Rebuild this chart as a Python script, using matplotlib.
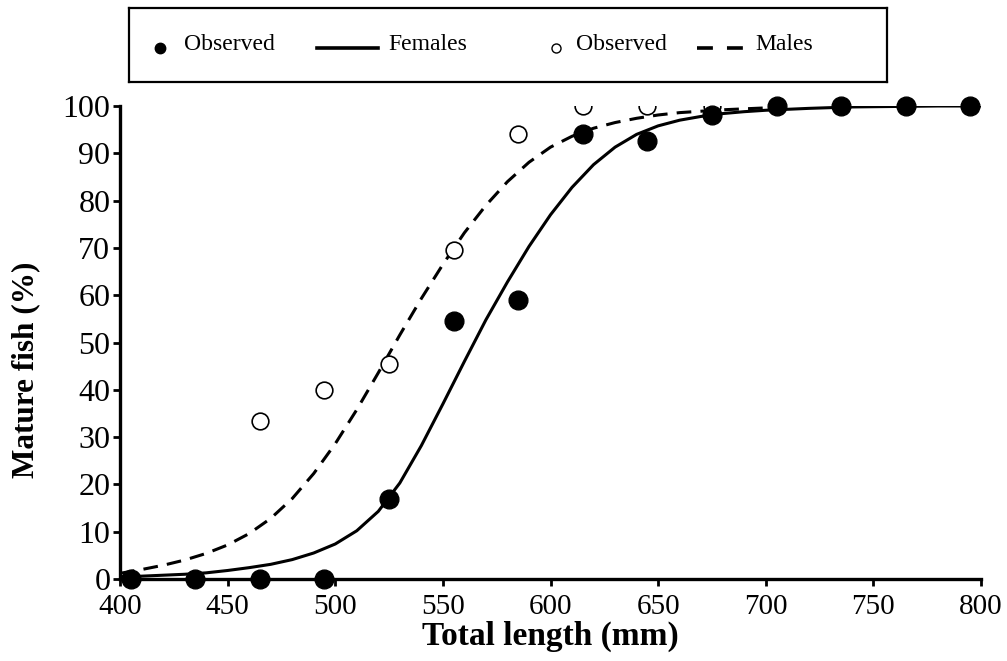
import matplotlib
matplotlib.use("Agg")
import matplotlib.pyplot as plt
from matplotlib.lines import Line2D

# ---- data ----
length_classes = [405, 435, 465, 495, 525, 555, 585, 615, 645, 675, 705, 735, 765, 795]
females_observed = [0, 0, 0, 0, 17, 54.5, 59, 94, 92.5, 98, 100, 100, 100, 100]

males_length = [465, 495, 525, 555, 585, 615, 645, 675]
males_observed = [33.5, 40, 45.5, 69.5, 94, 100, 100, 100]

# fitted curves
female_curve_x = [400, 410, 420, 430, 440, 450, 460, 470, 480, 490, 500, 510, 520, 530, 540,
                  550, 560, 570, 580, 590, 600, 610, 620, 630, 640, 650, 660, 670, 680, 690,
                  700, 720, 740, 760, 780, 800]
female_curve_y = [0.5, 0.6, 0.8, 1.0, 1.3, 1.8, 2.4, 3.1, 4.1, 5.5, 7.4, 10.2, 14.3, 20.3, 28.2,
                  37.0, 46.0, 54.8, 62.8, 70.3, 77.0, 82.8, 87.6, 91.3, 94.0, 95.8, 97.0, 97.8, 98.4, 98.8,
                  99.1, 99.5, 99.8, 99.9, 100.0, 100.0]

male_curve_x = [400, 410, 420, 430, 440, 450, 460, 470, 480, 490, 500, 510, 520, 530, 540,
                550, 560, 570, 580, 590, 600, 610, 620, 630, 640, 650, 660, 670, 680, 690, 700]
male_curve_y = [1.2, 2.0, 2.9, 4.0, 5.4, 7.2, 9.6, 12.8, 17.0, 22.3, 28.6, 35.8, 43.6, 51.6, 59.3,
                66.5, 73.2, 79.0, 84.0, 88.1, 91.3, 93.6, 95.3, 96.5, 97.4, 98.1, 98.6, 98.9, 99.2, 99.4, 99.6]

x_ticks = [400, 450, 500, 550, 600, 650, 700, 750, 800]
y_ticks = [0, 10, 20, 30, 40, 50, 60, 70, 80, 90, 100]

W, H = 1007, 661
plt.rcParams['font.family'] = ['Liberation Serif', 'DejaVu Serif']
fig = plt.figure(figsize=(W / 100, H / 100), dpi=100)

ax = fig.add_axes([120 / W, 1 - 579 / H, (981 - 120) / W, (579 - 106) / H])
ax.set_xlim(400, 800)
ax.set_ylim(0, 100)

ax.plot(male_curve_x, male_curve_y, color='black', lw=2.2, ls=(0, (4.8, 3.0)), zorder=2)
ax.plot(female_curve_x, female_curve_y, color='black', lw=2.2, zorder=2)
ax.plot(males_length, males_observed, ls='none', marker='o', ms=12, mfc='white',
        mec='black', mew=1.2, zorder=3)
ax.plot(length_classes, females_observed, ls='none', marker='o', ms=13.5, mfc='black',
        mec='black', zorder=4, clip_on=False)

for s in ['top', 'right']:
    ax.spines[s].set_visible(False)
for s in ['left', 'bottom']:
    ax.spines[s].set_linewidth(2.4)

ax.set_xticks(x_ticks)
ax.set_yticks(y_ticks)
ax.tick_params(axis='both', direction='out', length=5, width=2)
ax.tick_params(axis='x', labelsize=21, pad=6)
ax.tick_params(axis='y', labelsize=23, pad=2)

ax.set_xlabel('Total length (mm)', fontsize=24, fontweight='bold', va='top')
ax.xaxis.set_label_coords(0.5, -0.088)
ax.set_ylabel('Mature fish (%)', fontsize=22.5, fontweight='bold', va='center')
ax.yaxis.set_label_coords(-0.109, 0.442)

# ---- legend box ----
lax = fig.add_axes([129 / W, 1 - 82 / H, (887 - 129) / W, (82 - 8) / H])
lax.set_xlim(129, 887)
lax.set_ylim(82, 8)
lax.set_xticks([])
lax.set_yticks([])
for s in lax.spines.values():
    s.set_linewidth(1.6)

ly = 48
lax.add_line(Line2D([160], [ly], marker='o', ms=7.5, mfc='black', mec='black', ls='none'))
lax.text(184, 45, 'Observed', fontsize=17, va='center', ha='left')
lax.add_line(Line2D([317, 378], [ly, ly], color='black', lw=2.6))
lax.text(388, 45, 'Females', fontsize=17, va='center', ha='left')
lax.add_line(Line2D([556], [ly], marker='o', ms=6.5, mfc='white', mec='black', mew=1.0, ls='none'))
lax.text(576, 45, 'Observed', fontsize=17, va='center', ha='left')
lax.add_line(Line2D([697, 743], [ly, ly], color='black', lw=2.6, ls=(0, (4.4, 3.9))))
lax.text(755, 45, 'Males', fontsize=17, va='center', ha='left')

fig.savefig('out.png', dpi=100)
